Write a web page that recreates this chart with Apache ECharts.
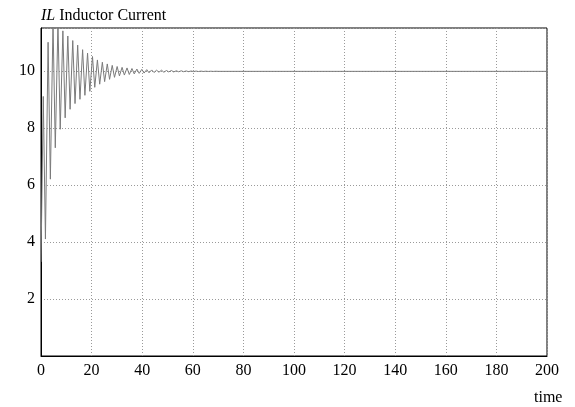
<!DOCTYPE html>
<html>
<head>
<meta charset="utf-8">
<script src="https://cdn.jsdelivr.net/npm/echarts@6/dist/echarts.min.js"></script>
<style>
  html, body { margin: 0; padding: 0; background: #fff; }
  #chart { width: 575px; height: 407px; }
</style>
</head>
<body>
<div id="chart"></div>
<script>
// Turning points of the inductor current
const times = [
  0, 0.9, 1.75, 2.8, 3.7, 4.75, 5.65, 6.7, 7.6, 8.65, 9.55, 10.6, 11.5, 12.55, 13.45,
  14.5, 15.4, 16.45, 17.35, 18.4, 19.3, 20.35, 21.25, 22.3, 23.2, 24.25, 25.15, 26.2,
  27.1, 28.15, 29.05, 30.1, 31.0, 32.05, 32.95, 34.0, 34.9, 35.95, 36.85, 37.9, 38.8,
  39.85, 40.75, 41.8, 42.7, 43.75, 44.65, 45.7, 46.6, 47.65, 48.55, 49.6, 50.5, 51.55,
  52.45, 53.5, 54.4, 55.45, 56.35, 57.4, 58.3, 59.35, 60.25, 61.3, 62.2, 63.25, 64.15,
  65.2, 66.1, 67.15, 68.05, 69.1, 70.0, 200
];
const current = [
  3.3, 9.1, 4.1, 11.0, 6.2, 11.7, 7.3, 11.65, 7.95, 11.4, 8.35, 11.22, 8.65, 11.06, 8.85,
  10.9, 9.0, 10.74, 9.14, 10.62, 9.28, 10.5, 9.42, 10.38, 9.53, 10.3, 9.62, 10.24,
  9.7, 10.19, 9.77, 10.15, 9.82, 10.12, 9.85, 10.1, 9.87, 10.08, 9.89, 10.06, 9.91,
  10.05, 9.92, 10.04, 9.93, 10.03, 9.94, 10.02, 9.95, 10.02, 9.95, 10.01, 9.96, 10.01,
  9.96, 10.0, 9.965, 10.0, 9.968, 9.995, 9.97, 9.992, 9.972, 9.99, 9.974, 9.988, 9.976,
  9.986, 9.977, 9.985, 9.978, 9.984, 9.98, 9.98
];
const xTicks = [0, 20, 40, 60, 80, 100, 120, 140, 160, 180, 200];
const yTicks = [2, 4, 6, 8, 10];

const serif = "'Liberation Serif', 'DejaVu Serif', serif";
const chart = echarts.init(document.getElementById("chart"));

chart.setOption({
  animation: false,
  backgroundColor: "#fff",
  title: [
    {
      text: "{i|IL} Inductor Current",
      left: 36,
      top: 3,
      textStyle: {
        fontFamily: serif, fontSize: 16, fontWeight: "normal", color: "#000",
        rich: { i: { fontFamily: serif, fontSize: 16, fontStyle: "italic", color: "#000" } },
      },
    },
    {
      text: "time",
      left: 529,
      top: 385,
      textStyle: { fontFamily: serif, fontSize: 16, fontWeight: "normal", color: "#000" },
    },
  ],
  grid: {
    left: 41, right: 28, top: 28, bottom: 51,
    show: true, borderColor: "#000", borderWidth: 1,
  },
  xAxis: {
    type: "value",
    min: 0, max: 200, interval: 20,
    axisLine: { lineStyle: { color: "#000", width: 1 } },
    axisTick: { show: false },
    axisLabel: {
      margin: 7, fontFamily: serif, fontSize: 16, color: "#000",
      formatter: (v) => (xTicks.includes(v) ? String(v) : ""),
    },
    splitLine: { lineStyle: { color: "#9a9a9a", type: [1, 2], width: 1 } },
  },
  yAxis: {
    type: "value",
    min: 0, max: 11.5, interval: 2,
    axisLine: { lineStyle: { color: "#000", width: 1 } },
    axisTick: { show: false },
    axisLabel: {
      margin: 6, fontFamily: serif, fontSize: 16, color: "#000",
      formatter: (v) => (yTicks.includes(v) ? String(v) : ""),
    },
    splitLine: { lineStyle: { color: "#9a9a9a", type: [1, 2], width: 1 } },
  },
  series: [
    {
      type: "line",
      data: times.map((t, i) => [t, current[i]]),
      symbol: "none",
      clip: true,
      lineStyle: { color: "#7a7a7a", width: 1 },
    },
  ],
});
</script>
</body>
</html>
